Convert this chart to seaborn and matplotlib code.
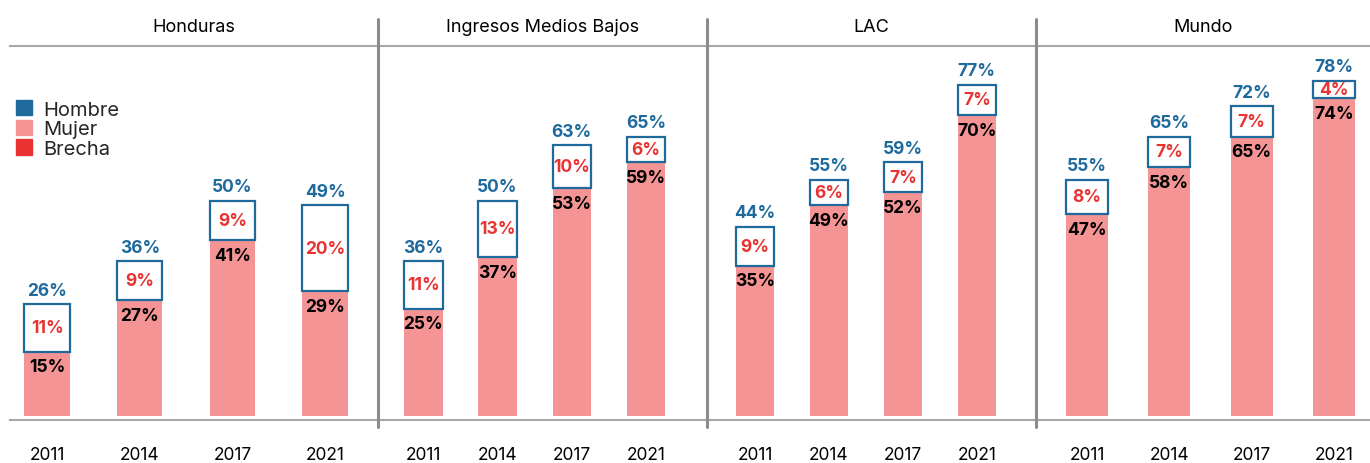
import numpy as np
import pandas as pd
import seaborn as sns
import matplotlib.pyplot as plt
from matplotlib.patches import Patch
from matplotlib.lines import Line2D

anios = ["2011", "2014", "2017", "2021"]
paneles = ["Honduras", "Ingresos Medios Bajos", "LAC", "Mundo"]

hombre_hnd = [26, 36, 50, 49]
mujer_hnd = [15, 27, 41, 29]
brecha_hnd = [11, 9, 9, 20]

hombre_imb = [36, 50, 63, 65]
mujer_imb = [25, 37, 53, 59]
brecha_imb = [11, 13, 10, 6]

hombre_lac = [44, 55, 59, 77]
mujer_lac = [35, 49, 52, 70]
brecha_lac = [9, 6, 7, 7]

hombre_mun = [55, 65, 72, 78]
mujer_mun = [47, 58, 65, 74]
brecha_mun = [8, 7, 7, 4]

datos = [
    (hombre_hnd, mujer_hnd, brecha_hnd),
    (hombre_imb, mujer_imb, brecha_imb),
    (hombre_lac, mujer_lac, brecha_lac),
    (hombre_mun, mujer_mun, brecha_mun),
]

azul = "#1f6a9c"
rosa = "#f49494"
rojo = "#e93333"
gris = "#a8a8a8"

sns.set_theme(style="white")
plt.rcParams["font.family"] = ["Inter", "DejaVu Sans"]

W, H = 1370, 464
fig = plt.figure(figsize=(13.7, 4.64), dpi=100)

# panel extents in pixels, x limits and bar width
paneles_px = [
    (10, 378, (-0.40, 3.57), 0.49),
    (378, 707, (-0.61, 3.82), 0.52),
    (707, 1036, (-0.65, 3.80), 0.51),
    (1036, 1370, (-0.62, 3.44), 0.51),
]

y_top, y_bot = 47, 421

for nombre, (hombre, mujer, brecha), (l, r, xl, w) in zip(paneles, datos, paneles_px):
    ax = fig.add_axes([l / W, 1 - y_bot / H, (r - l) / W, (y_bot - y_top) / H])
    df = pd.DataFrame({"anio": anios, "hombre": hombre, "mujer": mujer, "brecha": brecha})

    sns.barplot(data=df, x="anio", y="mujer", color=rosa, saturation=1, width=w,
                errorbar=None, linewidth=0, ax=ax)
    sns.barplot(data=df, x="anio", y="brecha", bottom=list(df["mujer"]), color="white",
                saturation=1, width=w, errorbar=None, edgecolor=azul, linewidth=1.6, ax=ax)

    for i in range(len(anios)):
        ax.annotate(f"{hombre[i]}%", (i, hombre[i]), xytext=(0, 4), textcoords="offset points",
                    ha="center", va="bottom", color=azul, fontsize=12.5, fontweight="bold")
        ax.annotate(f"{brecha[i]}%", (i, mujer[i] + brecha[i] / 2), ha="center", va="center",
                    color=rojo, fontsize=12.5, fontweight="bold")
        ax.annotate(f"{mujer[i]}%", (i, mujer[i]), xytext=(0, -5), textcoords="offset points",
                    ha="center", va="top", color="black", fontsize=12.5, fontweight="bold")

    ax.set_xlim(*xl)
    ax.set_ylim(-0.93, 86.05)
    ax.set_yticks([])
    ax.set_xlabel("")
    ax.set_ylabel("")
    ax.tick_params(axis="x", length=0, pad=19, labelsize=12.5, colors="black")
    ax.set_title(nombre, pad=11, fontsize=13, color="black")
    for s in ["left", "right"]:
        ax.spines[s].set_visible(False)
    for s in ["top", "bottom"]:
        ax.spines[s].set_color(gris)
        ax.spines[s].set_linewidth(1.5)
    ax.patch.set_alpha(0)

# vertical separators between panels
for x in [378, 707, 1036]:
    fig.add_artist(Line2D([x / W, x / W], [1 - 20 / H, 1 - 428 / H], color="#8c8c8c", lw=2.2))

handles = [Patch(color=azul, label="Hombre"), Patch(color=rosa, label="Mujer"),
           Patch(color=rojo, label="Brecha")]
fig.legend(handles=handles, loc="upper left", bbox_to_anchor=(16 / W, 1 - 101 / H), frameon=False,
           fontsize=14.5, handlelength=0.8, handleheight=0.8, labelspacing=0.05,
           handletextpad=0.55, borderpad=0, borderaxespad=0)

fig.savefig("out.png", dpi=100)
